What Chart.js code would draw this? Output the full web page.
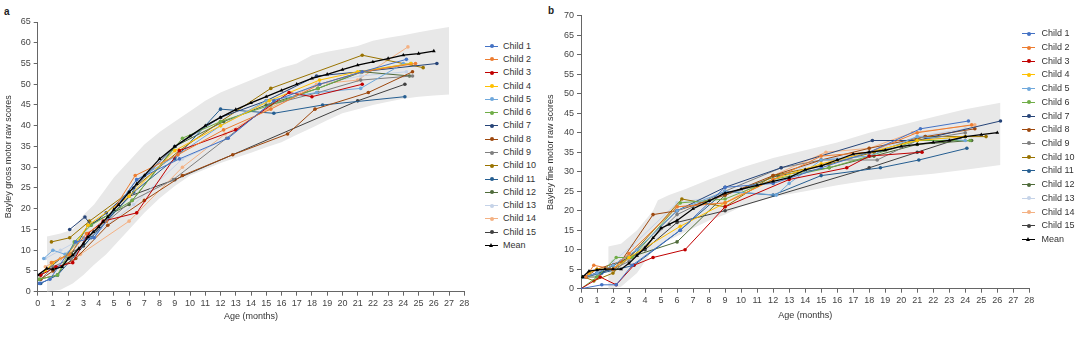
<!DOCTYPE html>
<html>
<head>
<meta charset="utf-8">
<script src="https://cdn.jsdelivr.net/npm/chart.js@4.4.1/dist/chart.umd.min.js"></script>
<style>
  body { margin: 0; width: 1080px; height: 341px; background: #fff; overflow: hidden; position: relative;
         font-family: "Liberation Sans", Arial, sans-serif; }
  canvas { position: absolute; top: 0; }
  .tag { position: absolute; font-weight: bold; font-size: 10px; color: #222; line-height: 12px; }
  .legend { position: absolute; top: 0; font-size: 9px; color: #333; }
  .item { position: absolute; left: 0; height: 12px; white-space: nowrap; }
  .item .ln { position: absolute; left: 0; top: 6px; width: 13px; height: 1px; }
  .item .dot { position: absolute; left: 4.5px; top: 4.5px; width: 4px; height: 4px; border-radius: 50%; }
  .item .tri { position: absolute; left: 4px; top: 4px; width: 0; height: 0;
               border-left: 2.5px solid transparent; border-right: 2.5px solid transparent; border-bottom: 4px solid #000; }
  .item .tx { position: absolute; top: 0; line-height: 12px; }
</style>
</head>
<body>

<div class="tag" style="left:4px; top:6px;">a</div>
<canvas id="grossChart" width="475" height="341" style="left:0;"></canvas>
<div class="legend" id="grossLegend" style="left:485px;"></div>

<div class="tag" style="left:548px; top:5px;">b</div>
<canvas id="fineChart" width="500" height="341" style="left:540px;"></canvas>
<div class="legend" id="fineLegend" style="left:1022px;"></div>

<script>
// ======================================================
// Series names and colours
// ======================================================

const seriesNames = [
    "Child 1", "Child 2", "Child 3", "Child 4", "Child 5",
    "Child 6", "Child 7", "Child 8", "Child 9", "Child 10",
    "Child 11", "Child 12", "Child 13", "Child 14", "Child 15", "Mean"
];

const seriesColors = [
    "#4472c4", "#ed7d31", "#c00000", "#ffc000", "#6fa8dc",
    "#70ad47", "#264478", "#9e480e", "#7f7f7f", "#997300",
    "#255e91", "#4f6b3a", "#c5d3e8", "#f4b183", "#404040", "#000000"
];

// ======================================================
// Gross motor scores: [age in months, raw score]
// ======================================================

const grossChild1 = [[0.1, 2], [0.8, 3], [2.5, 12], [3.7, 13], [6.5, 27], [9.3, 32], [12.5, 37], [15.5, 46], [18.5, 50], [21.3, 53], [24.2, 56]];
const grossChild2 = [[0.9, 7], [2.1, 9], [3.2, 14], [4.5, 17], [6.4, 28], [9.2, 33], [12.2, 39], [15.3, 44], [18.5, 50], [21.3, 53], [24.8, 55]];
const grossChild3 = [[0.2, 4], [1.2, 6], [2.3, 7], [3.3, 14], [4.3, 17], [6.5, 19], [9.3, 34], [13, 39], [16.5, 48], [18, 47], [21.3, 50]];
const grossChild4 = [[0.5, 5], [1, 7], [2, 9], [3.3, 16], [6, 23], [9, 34], [12, 40], [15.2, 46], [18.5, 51], [21, 53], [24.5, 55]];
const grossChild5 = [[0.4, 8], [1, 10], [1.8, 9], [3, 13], [3.7, 13], [6.5, 27], [9.2, 33], [12, 40], [15, 46], [18.3, 48], [21.2, 49], [24, 55]];
const grossChild6 = [[0.1, 3], [1.3, 4], [2.4, 12], [3.5, 16], [6.2, 22], [9.5, 37], [12, 41], [15.3, 45], [18.4, 49], [21.2, 53], [24.5, 55]];
const grossChild7 = [[2.1, 15], [3.1, 18], [3.5, 16], [4.5, 19], [6.3, 25], [9, 35], [12, 42], [15, 46], [18.3, 52], [21.2, 53], [26.2, 55]];
const grossChild8 = [[0.2, 3], [1, 5], [2.5, 8], [4.6, 16], [7, 22], [9.5, 28], [12.8, 33], [16.4, 38], [18.2, 44], [21.7, 48], [24.6, 53]];
const grossChild9 = [[0.2, 3], [1, 6], [2.2, 8], [3.3, 13], [6.2, 22], [8.9, 27], [12.4, 37], [15.2, 45], [18.4, 48], [21.2, 51], [24.6, 52]];
const grossChild10 = [[0.9, 12], [2.1, 13], [3.4, 17], [6, 24], [9.3, 34], [12, 41], [15.3, 49], [21.3, 57], [25.3, 54]];
const grossChild11 = [[0.2, 2], [1.3, 4], [3.5, 13], [6.3, 24], [9, 32], [12, 44], [15.5, 43], [18.7, 45], [24.1, 47]];
const grossChild12 = [[0.1, 3], [1.3, 4], [2.2, 9], [3.3, 16], [6, 21], [9, 35], [12.2, 41], [15, 45], [18.4, 49], [21.3, 53], [24.4, 52]];
const grossChild13 = [[0.5, 8], [1.5, 10], [2.5, 12], [3.8, 14], [6.3, 21], [9.5, 32], [12.5, 37], [15.5, 46], [18.5, 50], [21.2, 52], [24.2, 53]];
const grossChild14 = [[0.5, 6], [1.5, 8], [2.8, 9], [6, 17], [9.5, 30], [12.3, 38], [15.1, 44], [18.3, 50], [21, 51], [24.3, 59]];
const grossChild15 = [[0.2, 4], [1.5, 8], [3, 11], [4.5, 17], [6, 23], [9, 27], [21, 46], [24.1, 50]];
const grossMean = [[0, 4], [0.6, 5.6], [1, 5.4], [1.6, 6], [2, 8], [2.3, 8.8], [2.7, 10.4], [3, 11.6], [3.3, 13.2], [3.65, 14.4], [4, 15.6], [4.3, 16.9], [4.6, 18], [5, 19.8], [5.3, 20.9], [6, 24], [6.5, 26], [7, 28], [8, 32], [9, 35], [10, 37.5], [11, 40], [12, 42], [13, 43.9], [14, 45.5], [15, 47], [16, 48.5], [17, 50], [18, 51.4], [19, 52.4], [20, 53.5], [21, 54.6], [22, 55.4], [23, 56.2], [24, 57], [25, 57.4], [26, 58]];

// reference range around the gross motor scores
const grossBandAges = [0.6, 1.5, 2.3, 3, 3.7, 4.5, 5, 6, 7, 8, 9, 10, 11, 12, 13, 14, 15, 16, 17, 18, 19, 20, 21, 22, 23, 24, 25, 26, 27];
const grossBandLow = [0, 0.5, 2, 4, 6.5, 9, 11, 15, 19, 22.5, 25.5, 28, 29.5, 31, 32.3, 33.5, 34.8, 36, 37.8, 39.5, 41.3, 43, 44, 45, 45.8, 46.5, 47, 47.3, 47.5];
const grossBandHigh = [13.3, 14, 15, 18.5, 21, 25, 27.5, 31.5, 35.5, 38.5, 41, 43.5, 46, 48, 49.5, 51, 52.5, 54, 55, 57, 57.8, 58.5, 59.2, 60.5, 61.2, 61.8, 62.5, 63.2, 63.8];

// ======================================================
// Fine motor scores: [age in months, raw score]
// ======================================================

const fineChild1 = [[0, 0], [1.3, 1], [2.2, 1], [3.2, 6], [6.2, 15], [9, 26], [12, 27], [15, 31], [18, 35], [21.2, 41], [24.2, 43]];
const fineChild2 = [[0.3, 3], [0.8, 6], [2, 5], [3, 9], [6, 21], [9, 22], [12, 28], [15, 34], [18, 35], [21, 40], [24.4, 42]];
const fineChild3 = [[0, 0], [1.2, 3], [2.2, 1], [3.3, 6], [4.5, 8], [6.5, 10], [9, 21], [13, 28], [16.6, 31], [18, 34], [21.3, 35]];
const fineChild4 = [[0.5, 4], [1, 5], [2, 5], [3, 8], [6.2, 16], [9, 22], [12, 28], [15, 32], [18, 35], [21, 38], [24, 39]];
const fineChild5 = [[0.2, 3], [1, 4], [2, 6], [3.5, 10], [6, 20], [9, 25], [12.2, 24], [13, 27], [15, 33], [18, 34], [21, 39], [24, 38]];
const fineChild6 = [[0, 0], [1, 3], [2.2, 8], [3.2, 8], [6.2, 22], [9, 23], [12, 28], [15.5, 31], [18, 34], [21, 38], [24.3, 38]];
const fineChild7 = [[0.2, 3], [1, 4], [2, 5], [3, 8], [6, 20], [9, 26], [12.5, 31], [18.2, 38], [21, 38], [26.2, 43]];
const fineChild8 = [[0.3, 3], [1, 5], [2.5, 7], [4.5, 19], [6, 20], [9, 24], [12, 29], [15, 33], [18, 36], [21.5, 39], [24.6, 41]];
const fineChild9 = [[0.3, 3], [1, 4], [2, 5], [3, 7], [6, 19], [9, 25], [12.5, 31], [15, 33], [18.5, 33], [21, 38], [24, 40]];
const fineChild10 = [[0.2, 3], [0.8, 2], [2, 4], [3, 8], [6.3, 23], [9, 21], [12, 29], [15.5, 32], [18.3, 35], [21.5, 39], [25.3, 39]];
const fineChild11 = [[0.3, 3], [1.3, 4], [3.3, 6], [6.2, 15], [9, 25], [12, 24], [15, 29], [18.7, 31], [21.1, 33], [24.1, 36]];
const fineChild12 = [[0.1, 3], [1, 3], [2, 6], [3, 8], [6, 12], [9, 24], [12.3, 29], [15.5, 31], [18.3, 34], [21, 37], [24.4, 38]];
const fineChild13 = [[0.2, 3], [1, 4], [2, 7], [3.2, 11], [6, 22], [9, 24], [12, 28], [15, 33], [18, 35], [21, 39], [24, 41]];
const fineChild14 = [[0.5, 4], [1, 5], [2, 5], [3, 9], [6, 21], [9, 22], [12, 29], [15.3, 35], [18, 36], [20.7, 40], [24.6, 42]];
const fineChild15 = [[0.1, 3], [1, 4], [2, 6], [3, 8], [4, 10], [6, 17], [9, 20], [18, 31], [21, 35], [24, 39]];
const fineMean = [[0.1, 3], [0.5, 4.5], [1, 4.8], [1.5, 5], [2, 5], [2.5, 5], [3, 6.5], [3.5, 8.5], [4, 10.5], [4.5, 13], [5, 15.5], [5.5, 16.5], [6, 17.5], [7, 20.5], [8, 22.5], [9, 24.5], [10, 25.5], [11, 26.5], [12, 27.5], [13, 28.5], [14, 30.5], [15, 31.5], [16, 33], [17, 34.5], [18, 35], [19, 35.5], [20, 36.5], [21, 37], [22, 37.5], [23, 38], [24, 39], [25, 39.5], [26, 40]];

// reference range around the fine motor scores
const fineBandAges = [1.7, 2.5, 3.5, 4.5, 4.8, 5.5, 6.5, 8, 9, 10, 12, 14, 16, 18, 20, 22, 24, 26.2];
const fineBandLow = [0, 0.5, 4, 10, 11, 12.5, 14.5, 17.5, 19, 21, 23.5, 25, 26.5, 27.8, 28.7, 29.5, 30.5, 31.7];
const fineBandHigh = [10.8, 11.5, 15, 20, 22.7, 24, 25.5, 28, 29.5, 31, 33.5, 35.5, 37.5, 40, 42, 44, 46, 47.7];

const ageTicks = { min: 0, max: 28, step: 1 };

// ======================================================
// Dataset helpers
// ======================================================

function toPoints(pairs) {
    return pairs.map(p => ({ x: p[0], y: p[1] }));
}

function buildDatasets(children, mean, bandAges, bandLow, bandHigh) {

    const sets = children.map((pairs, i) => ({
        label: seriesNames[i],
        data: toPoints(pairs),
        showLine: true,
        borderColor: seriesColors[i],
        backgroundColor: seriesColors[i],
        borderWidth: 1,
        pointRadius: 1.8,
        pointBorderWidth: 0,
        fill: false,
        order: 1 + i
    }));

    sets.push({
        label: "Mean",
        data: toPoints(mean),
        showLine: true,
        borderColor: "#000",
        backgroundColor: "#000",
        borderWidth: 1.3,
        pointStyle: "triangle",
        pointRadius: 2.2,
        pointBorderWidth: 0,
        fill: false,
        order: 0
    });

    sets.push({
        label: "band low",
        data: bandAges.map((a, i) => ({ x: a, y: bandLow[i] })),
        showLine: true,
        borderWidth: 0,
        borderColor: "rgba(0,0,0,0)",
        pointRadius: 0,
        fill: false,
        order: 100
    });

    sets.push({
        label: "band high",
        data: bandAges.map((a, i) => ({ x: a, y: bandHigh[i] })),
        showLine: true,
        borderWidth: 0,
        borderColor: "rgba(0,0,0,0)",
        backgroundColor: "#e8e8e8",
        pointRadius: 0,
        fill: "-1",
        order: 101
    });

    return sets;
}

function axisGrid() {
    return { drawOnChartArea: false, drawTicks: true, tickLength: 4, color: "#666" };
}

function renderPanel(id, datasets, g) {

    return new Chart(document.getElementById(id), {
        type: "scatter",
        data: { datasets },
        options: {
            responsive: false,
            animation: false,
            events: [],
            layout: { padding: { left: 0, right: g.padRight, top: g.padTop, bottom: 0 } },
            plugins: {
                legend: { display: false },
                tooltip: { enabled: false },
                filler: { drawTime: "beforeDatasetsDraw" }
            },
            scales: {
                x: {
                    type: "linear",
                    min: ageTicks.min,
                    max: ageTicks.max,
                    afterFit: s => { s.height = g.xHeight; },
                    ticks: { stepSize: ageTicks.step, autoSkip: false, maxRotation: 0, padding: 2,
                             font: { size: 9 }, color: "#444" },
                    grid: axisGrid(),
                    border: { color: "#666" },
                    title: { display: true, text: "Age (months)", font: { size: 9 }, color: "#333",
                             padding: { top: 0, bottom: g.xTitlePad } }
                },
                y: {
                    type: "linear",
                    min: 0,
                    max: g.yMax,
                    afterFit: s => { s.width = g.yWidth; },
                    ticks: { stepSize: 5, padding: 3, font: { size: 9 }, color: "#444" },
                    grid: axisGrid(),
                    border: { color: "#666" },
                    title: { display: true, text: g.yTitle, font: { size: 9 }, color: "#333",
                             padding: { top: g.yTitlePad, bottom: 0 } }
                }
            }
        }
    });
}

function renderLegend(id, firstY, step, textLeft) {

    const box = document.getElementById(id);

    seriesNames.forEach((name, i) => {
        const item = document.createElement("div");
        item.className = "item";
        item.style.top = (firstY + i * step - 6) + "px";
        const color = seriesColors[i];
        const marker = name === "Mean"
            ? '<span class="tri"></span>'
            : '<span class="dot" style="background:' + color + '"></span>';
        item.innerHTML = '<span class="ln" style="background:' + color + '"></span>' + marker +
            '<span class="tx" style="left:' + textLeft + 'px">' + name + '</span>';
        box.appendChild(item);
    });
}

// ======================================================
// Panel a: gross motor
// ======================================================

renderPanel("grossChart",
    buildDatasets(
        [grossChild1, grossChild2, grossChild3, grossChild4, grossChild5, grossChild6, grossChild7, grossChild8,
         grossChild9, grossChild10, grossChild11, grossChild12, grossChild13, grossChild14, grossChild15],
        grossMean, grossBandAges, grossBandLow, grossBandHigh),
    { yMax: 65, yTitle: "Bayley gross motor raw scores", padTop: 22, padRight: 10.7,
      xHeight: 49.3, yWidth: 37.7, xTitlePad: 19, yTitlePad: 3 });

renderLegend("grossLegend", 45.7, 13.29, 18);

// ======================================================
// Panel b: fine motor
// ======================================================

renderPanel("fineChart",
    buildDatasets(
        [fineChild1, fineChild2, fineChild3, fineChild4, fineChild5, fineChild6, fineChild7, fineChild8,
         fineChild9, fineChild10, fineChild11, fineChild12, fineChild13, fineChild14, fineChild15],
        fineMean, fineBandAges, fineBandLow, fineBandHigh),
    { yMax: 70, yTitle: "Bayley fine motor raw scores", padTop: 15.7, padRight: 10.7,
      xHeight: 52.3, yWidth: 41, xTitlePad: 20.5, yTitlePad: 5.5 });

renderLegend("fineLegend", 33.3, 13.71, 19.5);
</script>
</body>
</html>
